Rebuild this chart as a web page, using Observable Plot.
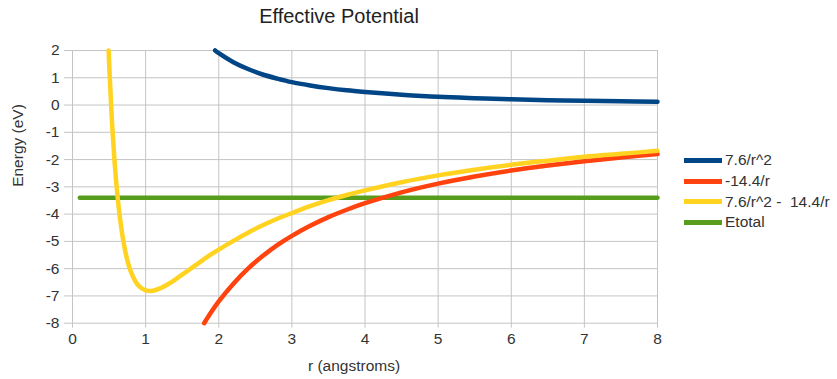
<!DOCTYPE html>
<html>
<head>
<meta charset="utf-8">
<script src="https://cdn.jsdelivr.net/npm/d3@7"></script>
<script src="https://cdn.jsdelivr.net/npm/@observablehq/plot@0.6"></script>
<style>
  html, body { margin: 0; padding: 0; background: #fff; }
  #wrap { position: relative; width: 837px; height: 379px; font-family: "Liberation Sans", Arial, sans-serif; color: #333; }
  #title { position: absolute; left: 0; top: 0; width: 678px; height: 36px; line-height: 33px; text-align: center; font-size: 20px; color: #222; }
  #chart { position: absolute; left: 0; top: 36px; }
  #legend { position: absolute; left: 684px; top: 150px; font-size: 15.5px; color: #333; }
  .item { display: flex; align-items: center; height: 20.7px; }
  .sw { width: 38px; height: 5px; margin-right: 3px; }
</style>
</head>
<body>
<div id="wrap">
  <div id="title">Effective Potential</div>
  <div id="chart"></div>
  <div id="legend"></div>
</div>
<script>
// Tick values
const xTicks = [0, 1, 2, 3, 4, 5, 6, 7, 8];
const yTicks = [-8, -7, -6, -5, -4, -3, -2, -1, 0, 1, 2];

// Series names and colours
const seriesNames = ["7.6/r^2", "-14.4/r", "7.6/r^2 -  14.4/r", "Etotal"];
const seriesColors = ["#004586", "#ff420e", "#ffd320", "#579d1c"];

// 7.6/r^2 (blue)
const rBlue = [1.95, 2.0, 2.2, 2.4, 2.6, 2.8, 3.0, 3.25, 3.5, 3.75, 4.0, 4.5, 5.0, 5.5, 6.0, 6.5, 7.0, 7.5, 8.0];
const vBlue = [2.0, 1.9, 1.57, 1.32, 1.12, 0.97, 0.84, 0.72, 0.62, 0.54, 0.48, 0.38, 0.3, 0.25, 0.21, 0.18, 0.16, 0.14, 0.12];

// -14.4/r (red)
const rRed = [1.8, 1.9, 2.0, 2.2, 2.4, 2.6, 2.8, 3.0, 3.25, 3.5, 3.75, 4.0, 4.5, 5.0, 5.5, 6.0, 6.5, 7.0, 7.5, 8.0];
const vRed = [-8.0, -7.58, -7.2, -6.55, -6.0, -5.54, -5.14, -4.8, -4.43, -4.11, -3.84, -3.6, -3.2, -2.88, -2.62, -2.4, -2.22, -2.06, -1.92, -1.8];

// 7.6/r^2 - 14.4/r (yellow)
const rYellow = [0.494, 0.5, 0.55, 0.6, 0.65, 0.7, 0.75, 0.8, 0.9, 1.0, 1.1, 1.2, 1.3, 1.4, 1.5, 1.6, 1.7, 1.8, 1.9, 2.0, 2.2, 2.4, 2.6, 2.8, 3.0, 3.25, 3.5, 3.75, 4.0, 4.5, 5.0, 5.5, 6.0, 6.5, 7.0, 7.5, 8.0];
const vYellow = [2.0, 1.6, -1.06, -2.89, -4.16, -5.06, -5.69, -6.13, -6.62, -6.8, -6.81, -6.72, -6.58, -6.41, -6.22, -6.03, -5.84, -5.65, -5.47, -5.3, -4.98, -4.68, -4.41, -4.17, -3.96, -3.71, -3.49, -3.3, -3.13, -2.83, -2.58, -2.37, -2.19, -2.04, -1.9, -1.79, -1.68];

// Etotal (green)
const rGreen = [0.1, 8.0];
const vGreen = [-3.4, -3.4];

const toRows = (rs, vs) => rs.map((r, i) => ({r, v: vs[i]}));
const blue = toRows(rBlue, vBlue);
const red = toRows(rRed, vRed);
const yellow = toRows(rYellow, vYellow);
const green = toRows(rGreen, vGreen);

const gridColor = "#c4c4c4";

const chart = Plot.plot({
  width: 837,
  height: 343,
  marginLeft: 72,
  marginRight: 180,
  marginTop: 14,
  marginBottom: 56.3,
  x: {domain: [0, 8], axis: null},
  y: {domain: [-8, 2], axis: null},
  style: {fontFamily: '"Liberation Sans", Arial, sans-serif', fontSize: "15.5px", color: "#333", background: "white"},
  marks: [
    Plot.ruleX(xTicks, {x: d => d, y1: -8, y2: 2, stroke: gridColor, strokeWidth: 1}),
    Plot.ruleY(yTicks, {y: d => d, x1: 0, x2: 8, stroke: gridColor, strokeWidth: 1}),
    Plot.axisX({ticks: xTicks, tickSize: 5, tickPadding: 5, label: null, stroke: gridColor, fill: "#333", fontSize: 15.5, tickFormat: d => String(d)}),
    Plot.axisY({ticks: yTicks, tickSize: 8, tickPadding: 5, label: null, stroke: gridColor, fill: "#333", fontSize: 15.5, tickFormat: d => String(d).replace("\u2212", "-")}),
    Plot.line(green, {x: "r", y: "v", stroke: seriesColors[3], strokeWidth: 4.5}),
    Plot.line(blue, {x: "r", y: "v", stroke: seriesColors[0], strokeWidth: 4.5, curve: "catmull-rom"}),
    Plot.line(red, {x: "r", y: "v", stroke: seriesColors[1], strokeWidth: 4.5, curve: "catmull-rom"}),
    Plot.line(yellow, {x: "r", y: "v", stroke: seriesColors[2], strokeWidth: 4.5, curve: "catmull-rom"}),
    Plot.text(["r (angstroms)"], {frameAnchor: "bottom", dx: -11, dy: 48, fill: "#333", fontSize: 15.5}),
    Plot.text(["Energy (eV)"], {frameAnchor: "left", dx: -54, rotate: -90, fill: "#333", fontSize: 15.5})
  ]
});
document.getElementById("chart").appendChild(chart);

const legend = document.getElementById("legend");
seriesNames.forEach((name, i) => {
  const item = document.createElement("div");
  item.className = "item";
  const sw = document.createElement("div");
  sw.className = "sw";
  sw.style.background = seriesColors[i];
  const label = document.createElement("span");
  label.textContent = name;
  label.style.whiteSpace = "pre";
  item.appendChild(sw);
  item.appendChild(label);
  legend.appendChild(item);
});
</script>
</body>
</html>
